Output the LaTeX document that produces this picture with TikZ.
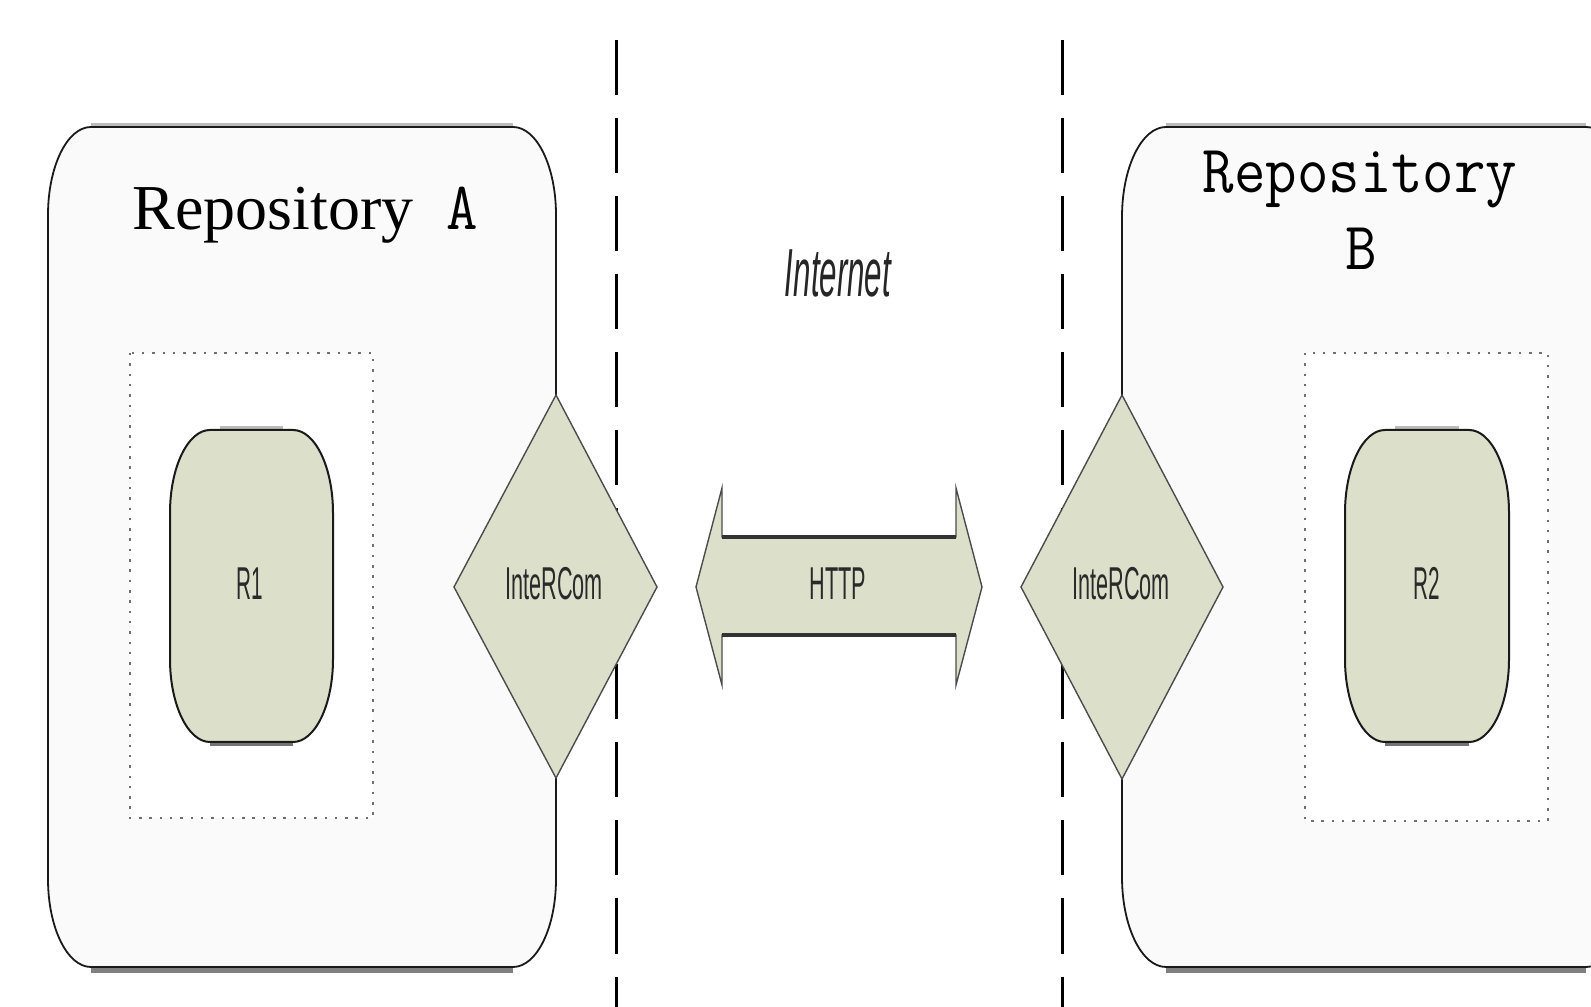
\documentclass[tikz,border=0pt]{standalone}
\usepackage{graphicx}
\usepackage{fontspec}
\setmainfont{Liberation Serif}
\newfontfamily\sansf{Liberation Sans}
\definecolor{sage}{HTML}{DCE0CA}
\definecolor{boxfill}{HTML}{FAFAFA}
\definecolor{edgec}{HTML}{1A1A1A}
\definecolor{shadec}{HTML}{808080}
\definecolor{lightedge}{HTML}{BBBBBB}
\definecolor{labelc}{HTML}{2A2A2A}
\definecolor{dotc}{HTML}{707070}
\newcommand\ellrect[6]{({#1},{#2+#6}) .. controls ({#1},{#2+0.4477*#6}) and ({#1+0.4477*#5},{#2}) .. ({#1+#5},{#2}) -- ({#3-#5},{#2}) .. controls ({#3-0.4477*#5},{#2}) and ({#3},{#2+0.4477*#6}) .. ({#3},{#2+#6}) -- ({#3},{#4-#6}) .. controls ({#3},{#4-0.4477*#6}) and ({#3-0.4477*#5},{#4}) .. ({#3-#5},{#4}) -- ({#1+#5},{#4}) .. controls ({#1+0.4477*#5},{#4}) and ({#1},{#4-0.4477*#6}) .. ({#1},{#4-#6}) -- cycle}
\tikzset{
  repbox/.style={fill=boxfill, draw=edgec, line width=0.018cm},
  topline/.style={draw=lightedge, line width=0.03cm},
  bottomshade/.style={draw=shadec, line width=0.06cm},
  innerbox/.style={fill=white, draw=dotc, line width=0.025cm, dash pattern=on 0.025cm off 0.078cm},
  resnode/.style={fill=sage, draw=edgec, line width=0.02cm},
  sageshape/.style={fill=sage, draw=black!70, line width=0.014cm, line join=miter},
  shaftline/.style={draw=black!80, line width=0.035cm},
  sepline/.style={draw=black, line width=0.03cm, dash pattern=on 0.55cm off 0.23cm},
  lbl/.style={inner sep=0, text=labelc, font=\sansf\fontsize{13.1pt}{15pt}\selectfont, anchor=base},
  reptitle/.style={inner sep=0, text=black},
  monotitle/.style={reptitle, anchor=base, font=\ttfamily\fontsize{19.3pt}{23pt}\selectfont},
}
\begin{document}
\begin{tikzpicture}[x=0.01cm,y=-0.01cm]
\useasboundingbox[fill=white] (0,0) rectangle (1591,1007);
\clip (0,0) rectangle (1591,1007);

% separators
\draw[sepline] (616,40) -- (616,1010);
\draw[sepline] (1062,40) -- (1062,1010);

% repository A
\draw[bottomshade] (91,970) -- (513,970);
\draw[topline] (91,124.5) -- (513,124.5);
\draw[repbox] \ellrect{48}{127}{556}{967}{43}{88};
\node[reptitle, anchor=base west, font=\fontsize{18.2pt}{22pt}\selectfont] (titleA) at (132,230)
  {Repository\hspace{9.5pt}{\ttfamily\fontsize{19.3pt}{23pt}\selectfont\scalebox{0.9}[1]{A}}};

% repository B
\draw[bottomshade] (1166,970) -- (1586,970);
\draw[topline] (1166,124.5) -- (1586,124.5);
\draw[repbox] \ellrect{1122}{127}{1630}{967}{44}{90};
\node[monotitle] (titleB1) at (1360,193) {\scalebox{0.9}[1]{Repository}};
\node[monotitle] (titleB2) at (1361,270) {\scalebox{0.9}[1]{B}};

% inner dotted areas
\draw[innerbox] (130,353) rectangle (373,818);
\draw[innerbox] (1305,353) rectangle (1548,821);

% R1
\draw[draw=black!55, line width=0.045cm] (210,744) -- (293,744);
\draw[topline] (220,428) -- (283,428);
\draw[resnode] \ellrect{170}{430}{333}{742}{40}{83};
\node[lbl] (r1) at (250,600) {\scalebox{0.45}[1]{R1}};

% R2
\draw[draw=black!55, line width=0.045cm] (1385,744) -- (1469,744);
\draw[topline] (1395,428) -- (1459,428);
\draw[resnode] \ellrect{1345}{430}{1509}{742}{40}{83};
\node[lbl] (r2) at (1427,600) {\scalebox{0.45}[1]{R2}};

% InteRCom diamonds
\draw[sageshape] (556,395) -- (657,587) -- (556,778) -- (454,587) -- cycle;
\node[lbl] (icA) at (554,600) {\scalebox{0.47}[1]{InteRCom}};
\draw[sageshape] (1122,395) -- (1223,587) -- (1122,779) -- (1021,587) -- cycle;
\node[lbl] (icB) at (1121,600) {\scalebox{0.47}[1]{InteRCom}};

% HTTP double arrow
\draw[sageshape] (722,537) -- (722,488) -- (696,587) -- (722,685) -- (722,635)
  -- (956,635) -- (956,685) -- (982,587) -- (956,488) -- (956,537) -- cycle;
\draw[shaftline] (722,537) -- (956,537);
\draw[shaftline] (722,635) -- (956,635);
\node[lbl] (http) at (838,600) {\scalebox{0.47}[1]{HTTP}};

% Internet label
\node[inner sep=0, anchor=base, text=black!85, font=\sansf\itshape\fontsize{19.35pt}{23pt}\selectfont] (inet) at (838,297) {\scalebox{0.46}[1]{Internet}};
\end{tikzpicture}
\end{document}
